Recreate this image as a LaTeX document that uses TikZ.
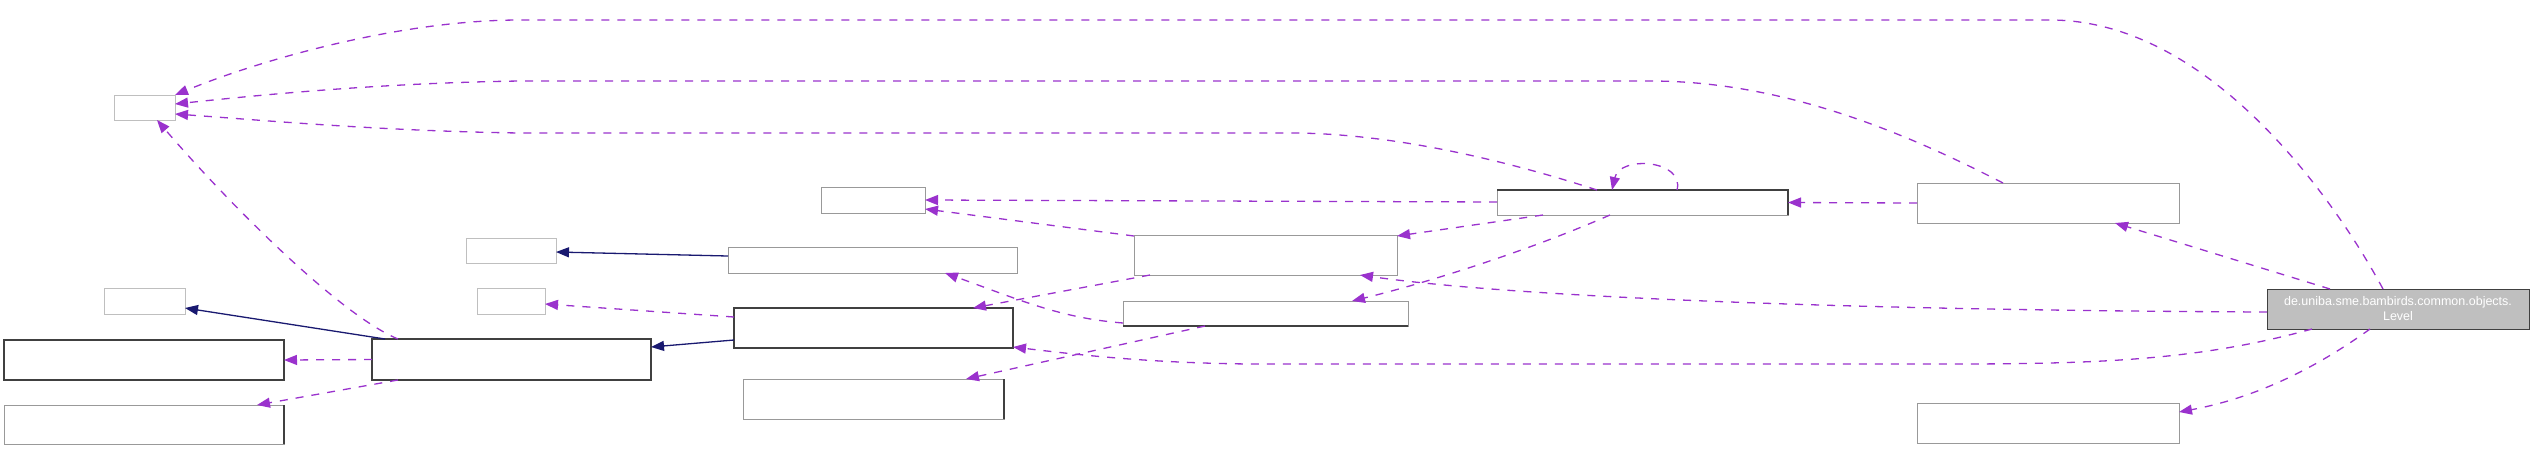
\documentclass[tikz,border=0pt]{standalone}
\usepackage{fontspec}
\setmainfont{Liberation Sans}
\usetikzlibrary{arrows.meta,calc}
\definecolor{depc}{HTML}{9A32CD}
\definecolor{inhc}{HTML}{191970}
\definecolor{bgrey}{HTML}{999999}
\definecolor{lgrey}{HTML}{BFBFBF}
\definecolor{dgrey}{HTML}{404040}
\begin{document}
\begin{tikzpicture}[x=1pt,y=-1pt,
  base/.style={inner sep=0pt, outer sep=0pt, anchor=north west, line width=1pt},
  lbox/.style={base, draw=lgrey},
  gbox/.style={base, draw=bgrey},
  dbox/.style={base, draw=dgrey, line width=1.5pt},
  lvl/.style={base, draw=dgrey, fill=lgrey, text=white, align=center, font=\fontsize{12.5}{15}\selectfont},
  darkedge/.style={draw=dgrey, line width=1.5pt},
  depl/.style={draw=depc, line width=1.3pt, dash pattern=on 8pt off 8pt, -{Triangle[length=13pt,width=10pt]}},
  inhl/.style={draw=inhc, line width=1.3pt, -{Triangle[length=13pt,width=10pt]}},
]
\useasboundingbox (0,0) rectangle (2535,451);

% nodes
\node[lbox, minimum width=61pt,  minimum height=25pt] (n1)  at (114,95)  {};
\node[gbox, minimum width=104pt, minimum height=26pt] (n2)  at (821,187) {};
\node[lbox, minimum width=90pt,  minimum height=25pt] (n3)  at (466,238) {};
\node[gbox, minimum width=289pt, minimum height=26pt] (n4)  at (728,247) {};
\node[lbox, minimum width=81pt,  minimum height=26pt] (n5)  at (104,288) {};
\node[lbox, minimum width=68pt,  minimum height=26pt] (n6)  at (477,288) {};
\node[dbox, minimum width=280pt, minimum height=40pt] (n7)  at (4,340)   {};
\node[gbox, minimum width=280pt, minimum height=39pt] (n8)  at (4,405)   {};
\node[dbox, minimum width=279pt, minimum height=41pt] (n9)  at (372,339) {};
\node[dbox, minimum width=279pt, minimum height=40pt] (n10) at (734,308) {};
\node[gbox, minimum width=261pt, minimum height=40pt] (n11) at (743,379) {};
\node[gbox, minimum width=263pt, minimum height=40pt] (n12) at (1134,235) {};
\node[gbox, minimum width=285pt, minimum height=25pt] (n13) at (1123,301) {};
\node[gbox, minimum width=291pt, minimum height=25pt] (n14) at (1497,190) {};
\node[gbox, minimum width=262pt, minimum height=40pt] (n15) at (1917,183) {};
\node[gbox, minimum width=262pt, minimum height=40pt] (n16) at (1917,403) {};
\node[lvl,  minimum width=262pt, minimum height=40pt] (n17) at (2267,289) {de.uniba.sme.bambirds.common.objects.\\Level};

% darker edges of some boxes
\draw[darkedge] (n8.north east) -- (n8.south east);
\draw[darkedge] (n11.north east) -- (n11.south east);
\draw[darkedge] (n13.south west) -- (n13.south east);
\draw[darkedge] (n14.south east) -- (n14.north east) -- (n14.north west);

% inheritance (solid)
\draw[inhl] ($(n9.north west)+(13,0)$) -- ($(n5.south east)+(0,-6)$);
\draw[inhl] ($(n4.north west)+(0,9)$) -- ($(n3.north east)+(0,14)$);
\draw[inhl] ($(n10.north west)+(0,32)$) -- ($(n9.north east)+(0,8)$);

% usage (dashed)
\draw[depl] (n9.west) -- (n7.east);
\draw[depl] ($(n9.south west)+(26,0)$) -- ($(n8.north east)+(-27,0)$);
\draw[depl] ($(n9.north west)+(26,0)$) .. controls (340,315) and (230,205) .. ($(n1.south west)+(43,0)$);
\draw[depl] ($(n10.north west)+(0,9)$) -- ($(n6.north east)+(0,16)$);
\draw[depl] ($(n12.north west)+(0,1)$) -- ($(n2.north east)+(0,22)$);
\draw[depl] ($(n14.north west)+(0,12)$) -- ($(n2.north east)+(0,13)$);
\draw[depl] ($(n12.south west)+(16,0)$) -- ($(n10.north west)+(239,0)$);
\draw[depl] ($(n13.north west)+(0,22)$) .. controls (1060,318) and (1020,300) .. ($(n4.south west)+(217,0)$);
\draw[depl] ($(n13.south west)+(82,0)$) -- ($(n11.north west)+(223,0)$);
\draw[depl] ($(n17.south west)+(45,0)$) .. controls (2200,360) and (2100,364) .. (1950,364) -- (1250,364) .. controls (1150,363) and (1080,355) .. ($(n10.south east)+(0,-1)$);
\draw[depl] ($(n17.north west)+(0,23)$) .. controls (1800,310) and (1500,295) .. ($(n12.south east)+(-37,0)$);
\draw[depl] ($(n17.north west)+(63,0)$) -- ($(n15.south west)+(198,0)$);
\draw[depl] (n15.west) -- (n14.east);
\draw[depl] ($(n17.south west)+(103,0)$) .. controls (2320,365) and (2260,397) .. ($(n16.north east)+(0,9)$);
\draw[depl] ($(n17.north west)+(116,0)$) .. controls (2335,200) and (2210,20) .. (2050,20) -- (520,20) .. controls (400,20) and (260,60) .. (n1.north east);
\draw[depl] ($(n15.north west)+(86,0)$) .. controls (1900,130) and (1780,81) .. (1650,81) -- (520,81) .. controls (380,83) and (260,95) .. ($(n1.north east)+(0,9)$);
\draw[depl] ($(n14.north west)+(100,0)$) .. controls (1520,165) and (1400,133) .. (1290,133) -- (520,133) .. controls (380,131) and (260,120) .. ($(n1.north east)+(0,19)$);
\draw[depl] ($(n14.north west)+(180,0)$) .. controls (1685,160) and (1620,155) .. ($(n14.north west)+(115,0)$);
\draw[depl] ($(n14.south west)+(113,0)$) .. controls (1530,250) and (1430,282) .. ($(n13.north east)+(-56,0)$);
\draw[depl] ($(n14.south west)+(46,0)$) -- ($(n12.north east)+(0,1)$);
\end{tikzpicture}
\end{document}
